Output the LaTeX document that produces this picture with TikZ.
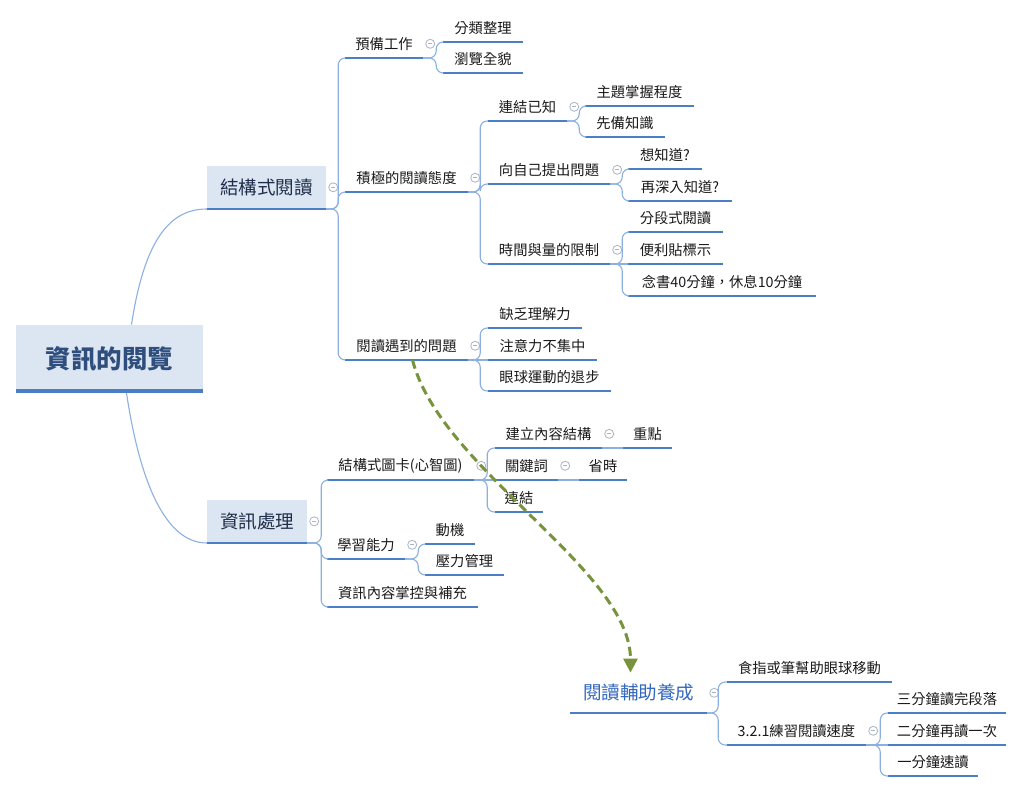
\documentclass[tikz,border=0pt]{standalone}
\usepackage{fontspec}
\setmainfont{Noto Sans CJK TC}
\usetikzlibrary{calc,arrows.meta}
\definecolor{ulblue}{HTML}{4A7FC6}
\definecolor{connblue}{HTML}{8CB0E0}
\definecolor{boxfill}{HTML}{DCE6F2}
\definecolor{ltext}{HTML}{1F2D4A}
\definecolor{roottext}{HTML}{2F4E7E}
\definecolor{floatblue}{HTML}{3468BE}
\definecolor{arrowgreen}{HTML}{77933C}
\definecolor{collgray}{HTML}{A9B4C2}
\definecolor{subtext}{HTML}{1A1A1A}
\tikzset{
  sub/.style={anchor=south, inner sep=0pt, minimum height=28pt, text=subtext,
    font=\fontsize{14.3}{16}\selectfont},
  ul/.style={draw=ulblue, line width=2.8pt},
  conn/.style={draw=connblue, line width=1.1pt, rounded corners=7pt},
  lone/.style={anchor=south, fill=boxfill, inner sep=0pt, text=ltext,
    font=\fontsize{18.5}{21}\selectfont},
  l1line/.style={draw=ulblue, line width=2pt},
  rootbox/.style={anchor=south, fill=boxfill, inner sep=0pt, text=roottext,
    font=\fontsize{25.5}{28}\selectfont\bfseries},
  floattopic/.style={anchor=south, inner sep=0pt, text=floatblue,
    font=\fontsize{18.5}{21}\selectfont},
  coll/.style={circle, draw=collgray, line width=0.8pt, minimum size=9pt, inner sep=0pt,
    path picture={\draw[collgray, line width=0.8pt]
      ([xshift=-2.2pt]path picture bounding box.center) -- ([xshift=2.2pt]path picture bounding box.center);}},
  dasharrow/.style={draw=arrowgreen, line width=3pt, dash pattern=on 9pt off 5pt,
    -{Triangle[length=14pt,width=14pt,fill=arrowgreen]}}
}
\newcommand\subtopic[5]{%
  \node[sub, minimum width={#3-#2}] (#1) at ({(#2+#3)/2},#4) {#5};
  \draw[ul] (#1.south west) -- (#1.south east);}
\newcommand\collapse[1]{\node[coll] (#1-c) at ($(#1.east)+(7,0)$) {};}
\newcommand\branch[3]{\draw[conn] (#1.south east) -- ++(#2,0) |- (#3.south west);}
\newcommand\straight[2]{\draw[conn] (#1.south east) -- (#2.south west);}
\begin{document}
\begin{tikzpicture}[x=1pt,y=-1pt]
\useasboundingbox[fill=white] (0,0) rectangle (1024,791);

% root
\node[rootbox, minimum width=187pt, minimum height=68pt] (root) at (109.5,393) {資訊的閱覽};
\draw[draw=ulblue, line width=4pt] ([yshift=2pt]root.south west) -- ([yshift=2pt]root.south east);

% level 1
\node[lone, minimum width=119pt, minimum height=43pt] (A) at (266.5,209) {結構式閱讀};
\draw[l1line] (A.south west) -- (A.south east);
\node[lone, minimum width=100pt, minimum height=43pt] (B) at (257,543) {資訊處理};
\draw[l1line] (B.south west) -- (B.south east);
\collapse{A}
\collapse{B}

\coordinate (rA) at ([xshift=22pt]root.north);
\coordinate (rB) at ([xshift=17pt]root.south);
\draw[conn] (rA) .. controls ($(rA)+(13,-85)$) and ($(A.south west)+(-37,0)$) .. (A.south west);
\draw[conn] (rB) .. controls ($(rB)+(13,87)$) and ($(B.south west)+(-42,0)$) .. (B.south west);

% branch A
\subtopic{a1}{345}{423}{58}{預備工作}
\subtopic{a11}{443}{523}{42}{分類整理}
\subtopic{a12}{443}{523}{73}{瀏覽全貌}
\subtopic{a2}{345}{468}{192}{積極的閱讀態度}
\subtopic{a21}{488}{567}{121}{連結已知}
\subtopic{a211}{585}{694}{106}{主題掌握程度}
\subtopic{a212}{585}{665}{137}{先備知識}
\subtopic{a22}{488}{610}{184}{向自己提出問題}
\subtopic{a221}{628}{702}{169}{想知道?}
\subtopic{a222}{628}{732}{201}{再深入知道?}
\subtopic{a23}{488}{610}{264}{時間與量的限制}
\subtopic{a231}{628}{723}{232}{分段式閱讀}
\subtopic{a232}{628}{723}{264}{便利貼標示}
\subtopic{a233}{628}{816}{296}{念書40分鐘，休息10分鐘}
\subtopic{a3}{345}{468}{360}{閱讀遇到的問題}
\subtopic{a31}{488}{582}{328}{缺乏理解力}
\subtopic{a32}{488}{597}{360}{注意力不集中}
\subtopic{a33}{488}{611}{391}{眼球運動的退步}
\foreach \n in {a1,a2,a21,a22,a23,a3} {\collapse{\n}}

\branch{A}{12}{a1}
\branch{A}{12}{a2}
\branch{A}{12}{a3}
\branch{a1}{13}{a11}
\branch{a1}{13}{a12}
\branch{a2}{12}{a21}
\branch{a2}{12}{a22}
\branch{a2}{12}{a23}
\branch{a21}{12}{a211}
\branch{a21}{12}{a212}
\branch{a22}{12}{a221}
\branch{a22}{12}{a222}
\branch{a23}{12}{a231}
\straight{a23}{a232}
\branch{a23}{12}{a233}
\branch{a3}{12}{a31}
\straight{a3}{a32}
\branch{a3}{12}{a33}

% branch B
\subtopic{b1}{327}{474}{480}{結構式圖卡(心智圖)}
\subtopic{b11}{495}{602}{448}{建立內容結構}
\subtopic{b111}{623}{672}{448}{重點}
\subtopic{b12}{495}{558}{480}{關鍵詞}
\subtopic{b121}{579}{627}{480}{省時}
\subtopic{b13}{495}{543}{512}{連結}
\subtopic{b2}{327}{405}{559}{學習能力}
\subtopic{b21}{425}{475}{544}{動機}
\subtopic{b22}{425}{504}{575}{壓力管理}
\subtopic{b3}{327}{478}{607}{資訊內容掌控與補充}
\foreach \n in {b1,b11,b12,b2} {\collapse{\n}}

\branch{B}{14}{b1}
\branch{B}{14}{b2}
\branch{B}{14}{b3}
\branch{b1}{13}{b11}
\straight{b1}{b12}
\branch{b1}{13}{b13}
\straight{b11}{b111}
\straight{b12}{b121}
\branch{b2}{13}{b21}
\branch{b2}{13}{b22}

% floating topic
\node[floattopic, minimum width=137pt, minimum height=40pt] (C) at (638.5,713) {閱讀輔助養成};
\draw[draw=ulblue, line width=1.2pt] (C.south west) -- (C.south east);
\collapse{C}
\subtopic{c1}{727}{892}{682}{食指或筆幫助眼球移動}
\subtopic{c2}{727}{866}{745}{3.2.1練習閱讀速度}
\subtopic{c21}{888}{1006}{713}{三分鐘讀完段落}
\subtopic{c22}{888}{1006}{745}{二分鐘再讀一次}
\subtopic{c23}{888}{978}{776}{一分鐘速讀}
\collapse{c2}
\branch{C}{11}{c1}
\branch{C}{11}{c2}
\branch{c2}{14}{c21}
\straight{c2}{c22}
\branch{c2}{14}{c23}

% relationship arrow
\coordinate (s) at ([xshift=6pt]a3.south);
\coordinate (e) at ([xshift=-8pt]C.north);
\draw[dasharrow] (s) .. controls ($(s)+(28,109)$) and ($(e)+(0,-103)$) .. (e);
\end{tikzpicture}
\end{document}
